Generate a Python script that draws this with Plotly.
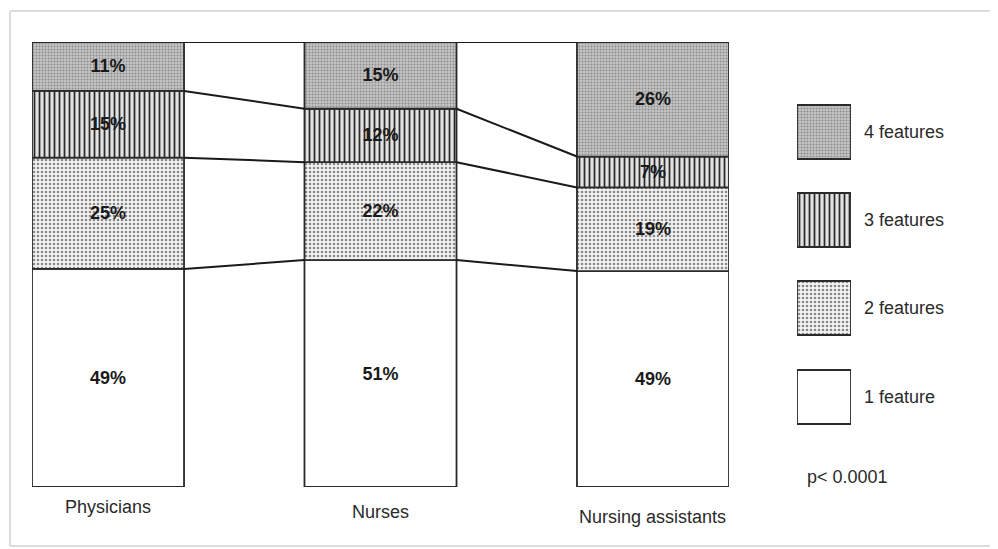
import plotly.graph_objects as go

# ---------------- data ----------------
categories = ["Physicians", "Nurses", "Nursing assistants"]
one_feature = [49, 51, 49]
two_features = [25, 22, 19]
three_features = [15, 12, 7]
four_features = [11, 15, 26]
series_names = ["1 feature", "2 features", "3 features", "4 features"]
p_text = "p< 0.0001"

W, H = 998, 549
OFF = 8  # page body margin
FONT = "Liberation Sans, Arial, sans-serif"

def px_x(p):
    return (p - OFF) / W

def px_y(p):
    return 1 - (p - OFF) / H

series = [one_feature, two_features, three_features, four_features]
totals = [sum(s[i] for s in series) for i in range(len(categories))]
norm = [[s[i] / totals[i] * 100 for i in range(len(categories))] for s in series]
bases = []
run = [0.0] * len(categories)
for s in norm:
    bases.append(run[:])
    run = [run[i] + s[i] for i in range(len(categories))]

styles = [
    dict(shape="", fg="#ffffff", bg="#ffffff", size=6, sol=0.3),
    dict(shape=".", fg="#8a8a8a", bg="#f3f3f3", size=4, sol=0.35),
    dict(shape="|", fg="#2a2a2a", bg="#e2e2e2", size=5, sol=0.35),
    dict(shape=".", fg="#8c8c8c", bg="#c6c6c6", size=3, sol=0.35),
]

BW = 0.558
fig = go.Figure()

for k, (vals, base, st) in enumerate(zip(norm, bases, styles)):
    raw = series[k]
    fig.add_trace(go.Bar(
        x=list(range(len(categories))), y=vals, base=base, width=BW,
        marker=dict(color=st["bg"], line=dict(color="#2a2a2a", width=1.8),
                    pattern=dict(shape=st["shape"], fgcolor=st["fg"], bgcolor=st["bg"],
                                 size=st["size"], solidity=st["sol"], fillmode="replace")),
        text=[f"<b>{v}%</b>" for v in raw], textposition="inside",
        insidetextanchor="middle", constraintext="none",
        textfont=dict(family=FONT, size=18, color="#1a1a1a"),
        showlegend=False, hoverinfo="skip", xaxis="x", yaxis="y",
    ))

boundaries = bases[1:] + [run]
for b in boundaries:
    for i in range(len(categories) - 1):
        fig.add_trace(go.Scatter(
            x=[i + BW / 2, i + 1 - BW / 2], y=[b[i], b[i + 1]], mode="lines",
            line=dict(color="#1a1a1a", width=2), showlegend=False, hoverinfo="skip",
            xaxis="x", yaxis="y",
        ))

sw_tops = [370, 281, 193, 105]
sw_h = 54
for name, st, top in zip(series_names, styles, sw_tops):
    fig.add_trace(go.Bar(
        x=[0], y=[sw_h], base=[top - OFF], width=1,
        marker=dict(color=st["bg"], line=dict(color="#2a2a2a", width=1.8),
                    pattern=dict(shape=st["shape"], fgcolor=st["fg"], bgcolor=st["bg"],
                                 size=st["size"], solidity=st["sol"], fillmode="replace")),
        showlegend=False, hoverinfo="skip", xaxis="x2", yaxis="y2",
    ))

annotations = []
for name, top in zip(series_names, sw_tops):
    annotations.append(dict(
        x=px_x(862), y=px_y(top + sw_h / 2), xref="paper", yref="paper",
        text=name, showarrow=False, xanchor="left", yanchor="middle",
        font=dict(family=FONT, size=18, color="#2a2a2a"),
    ))
annotations.append(dict(
    x=px_x(805), y=px_y(477), xref="paper", yref="paper", text=p_text,
    showarrow=False, xanchor="left", yanchor="middle",
    font=dict(family=FONT, size=18, color="#2a2a2a"),
))
label_y = [507, 512, 517]
for i, (cat, ly) in enumerate(zip(categories, label_y)):
    annotations.append(dict(
        x=i, y=px_y(ly), xref="x", yref="paper", text=cat, showarrow=False,
        xanchor="center", yanchor="middle",
        font=dict(family=FONT, size=18, color="#2a2a2a"),
    ))

border = dict(color="#dcdcdc", width=2)
fig.update_layout(
    width=W, height=H, margin=dict(l=0, r=0, t=0, b=0),
    paper_bgcolor="white", plot_bgcolor="rgba(0,0,0,0)",
    barmode="overlay", showlegend=False,
    xaxis=dict(domain=[px_x(32), px_x(729)], range=[-BW / 2, 2 + BW / 2],
               showticklabels=False, showgrid=False, zeroline=False, showline=False,
               fixedrange=True),
    yaxis=dict(domain=[px_y(487), px_y(42)], range=[0, 100], showticklabels=False,
               showgrid=False, zeroline=False, showline=False, fixedrange=True),
    xaxis2=dict(domain=[px_x(797), px_x(851)], range=[-0.5, 0.5], anchor="y2",
                showticklabels=False, showgrid=False, zeroline=False, showline=False),
    yaxis2=dict(domain=[0, 1], range=[H, 0], anchor="x2", showticklabels=False,
                showgrid=False, zeroline=False, showline=False),
    annotations=annotations,
    shapes=[
        dict(type="line", xref="paper", yref="paper", x0=px_x(10), x1=1,
             y0=px_y(11), y1=px_y(11), line=border, layer="below"),
        dict(type="line", xref="paper", yref="paper", x0=px_x(10), x1=1,
             y0=px_y(546), y1=px_y(546), line=border, layer="below"),
        dict(type="line", xref="paper", yref="paper", x0=px_x(10), x1=px_x(10),
             y0=px_y(11), y1=px_y(546), line=border, layer="below"),
    ],
)

fig.write_html("out.html")
